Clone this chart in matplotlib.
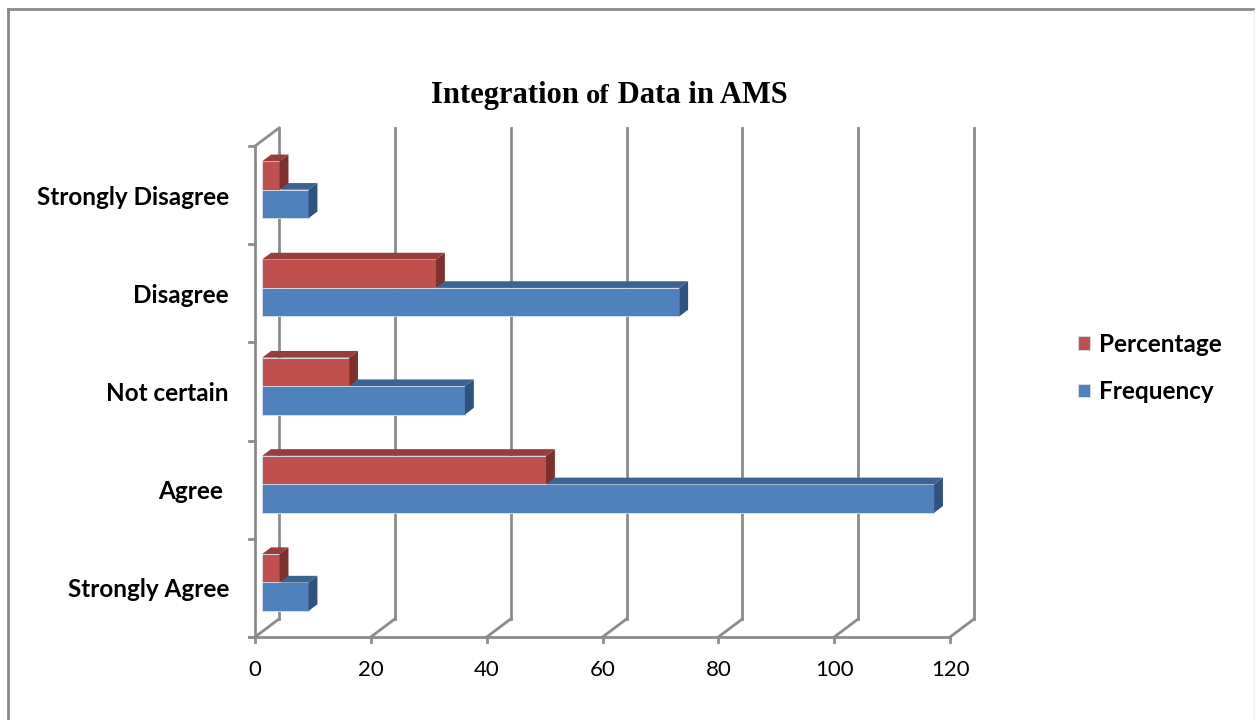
import matplotlib.pyplot as plt
from matplotlib.patches import Polygon
from matplotlib.lines import Line2D
import numpy as np

categories = ['Strongly Agree', 'Agree ', 'Not certain', 'Disagree', 'Strongly Disagree']
frequency = [8, 116, 35, 72, 8]
percentage = [3, 49, 15, 30, 3]
xticks = [0, 20, 40, 60, 80, 100, 120]

plt.rcParams['font.family'] = ['Lato', 'DejaVu Sans']

W, H = 1255, 720
fig = plt.figure(figsize=(W / 100, H / 100), dpi=100)
ax = fig.add_axes([255 / W, (H - 637) / H, (979 - 255) / W, (637 - 128) / H])
ax.set_xlim(0, 125)
ax.set_ylim(-0.5, 4.5 + 18 / 98)
ax.axis('off')

# oblique depth of the 3d box (data units)
dx = 24 / 5.79
dy = 18 / 98
grid_c = '#8c8c8c'
lw = 2

n = len(categories)
y = np.arange(n)
top_y = n - 0.5

# back wall gridlines + floor diagonals
for v in xticks:
    ax.plot([v + dx, v + dx], [-0.5 + dy, top_y + dy], color=grid_c, lw=lw, zorder=1, clip_on=False)
    ax.plot([v, v + dx], [-0.5, -0.5 + dy], color=grid_c, lw=lw, zorder=1, clip_on=False)
    # tick below the floor
    ax.plot([v, v], [-0.5, -0.5 - 5 / 98], color=grid_c, lw=lw, zorder=1, clip_on=False)
    ax.text(v, -0.5 - 33 / 98, str(v), ha='center', va='center', fontsize=16)

# front floor line and left wall
ax.plot([-6 / 5.79, xticks[-1]], [-0.5, -0.5], color=grid_c, lw=lw, zorder=1, clip_on=False)
ax.plot([0, 0], [-0.5, top_y], color=grid_c, lw=lw, zorder=1, clip_on=False)
ax.plot([0, dx], [top_y, top_y + dy], color=grid_c, lw=lw, zorder=1, clip_on=False)
for b in np.arange(-0.5, n, 1.0):
    ax.plot([-6 / 5.79, 0], [b, b], color=grid_c, lw=lw, zorder=1, clip_on=False)

for yi, lab in zip(y, categories):
    ax.text(-4.5, yi - 9.5 / 98, lab, ha='right', va='baseline', fontsize=17.5, fontweight='bold')

# bars sit between 30% and 67% of the depth
d0, d1 = 0.30, 0.67
ox, oy = d0 * dx, d0 * dy
bx, by = (d1 - d0) * dx, (d1 - d0) * dy
h = 0.29


def bar3d(vals, bottoms, front, top, side, label, z):
    bars = ax.barh(bottoms + oy, vals, height=h, left=ox, align='edge', color=front,
                   edgecolor='#d9e2ee', linewidth=0.6, label=label, zorder=z)
    for v, b in zip(vals, bottoms):
        y0 = b + oy
        y1 = y0 + h
        x0 = ox
        x1 = ox + v
        ax.add_patch(Polygon([(x0, y1), (x1, y1), (x1 + bx, y1 + by), (x0 + bx, y1 + by)],
                             closed=True, facecolor=top, edgecolor='none', zorder=z))
        ax.add_patch(Polygon([(x1, y0), (x1 + bx, y0 + by), (x1 + bx, y1 + by), (x1, y1)],
                             closed=True, facecolor=side, edgecolor='none', zorder=z))
    return bars


freq_bars = bar3d(frequency, y - h, '#4f81bd', '#3c6493', '#30527f', 'Frequency', 3)
pct_bars = bar3d(percentage, y.astype(float), '#c0504d', '#973d3b', '#7e302e', 'Percentage', 4)

# title: "of" is set a little smaller than the rest
parts = [('Integration ', 22), ('of', 20.5), (' Data in AMS', 22)]
renderer = fig.canvas.get_renderer()
texts = []
for s, fs in parts:
    t = fig.text(0, 1 - 103 / H, s, ha='left', va='baseline', fontsize=fs,
                 fontweight='bold', family='Liberation Serif')
    texts.append(t)
widths = [t.get_window_extent(renderer).width for t in texts]
x = 609 - sum(widths) / 2
for t, w in zip(texts, widths):
    t.set_x(x / W)
    x += w

fig.legend(handles=[pct_bars, freq_bars], labels=['Percentage', 'Frequency'],
           loc='upper left', bbox_to_anchor=(1056 / W, 1 - 311 / H), frameon=False,
           handlelength=0.5, handleheight=0.5, handletextpad=0.37, labelspacing=1.0,
           prop=dict(weight='bold', size=17.5, family='Lato'))

# outer frame
fig.add_artist(Line2D([8 / W, 8 / W], [0, 1 - 9 / H], color='#8a8a8a', lw=2))
fig.add_artist(Line2D([8 / W, 1], [1 - 9 / H, 1 - 9 / H], color='#8a8a8a', lw=2))
fig.add_artist(Line2D([1254 / W, 1254 / W], [0, 1 - 10 / H], color='#ececec', lw=1))

fig.savefig('out.png', dpi=100)
